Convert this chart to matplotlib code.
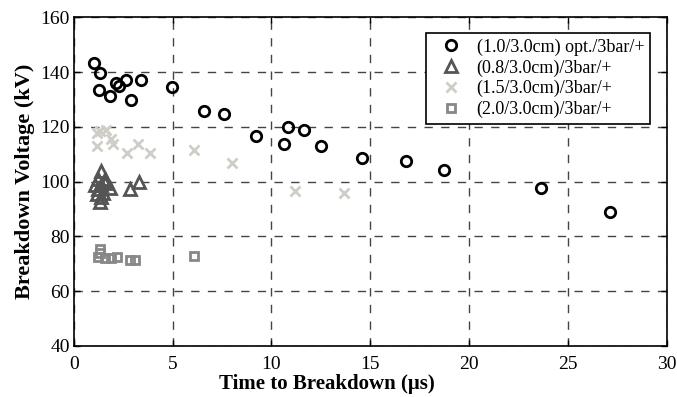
import matplotlib
matplotlib.use('Agg')
import matplotlib.pyplot as plt

plt.rcParams['font.family'] = ['Liberation Serif', 'DejaVu Serif']

# (1.0/3.0cm) opt./3bar/+
t_circ = [1.0, 1.35, 1.25, 1.82, 2.16, 2.29, 2.63, 2.87, 3.39, 4.99, 6.57, 7.59,
          9.2, 10.62, 10.86, 11.63, 12.48, 14.57, 16.8, 18.75, 23.64, 27.1]
v_circ = [143.2, 139.7, 133.4, 131.2, 136.1, 134.9, 137.0, 129.8, 137.2, 134.6, 125.7, 124.9,
          116.6, 113.8, 120.0, 119.0, 113.0, 108.6, 107.7, 104.2, 97.5, 88.9]

# (0.8/3.0cm)/3bar/+
t_tri = [1.4, 1.23, 1.57, 1.06, 1.4, 1.82, 1.23, 1.48, 1.15, 1.4, 1.32, 1.6, 2.83, 3.3]
v_tri = [103.9, 100.9, 100.9, 98.7, 98.7, 97.8, 97.2, 96.0, 95.4, 94.2, 92.4, 99.5, 97.2, 99.9]

# (1.5/3.0cm)/3bar/+
t_x = [1.15, 1.32, 1.65, 1.9, 1.98, 1.15, 2.67, 3.25, 3.84, 6.1, 8.0, 11.2, 13.66]
v_x = [117.8, 118.4, 119.0, 115.4, 113.6, 113.0, 110.5, 113.6, 110.5, 111.5, 106.9, 96.5, 95.9]

# (2.0/3.0cm)/3bar/+
t_sq = [1.32, 1.32, 1.23, 1.57, 1.9, 2.19, 2.83, 3.09, 6.07]
v_sq = [75.4, 73.8, 72.4, 72.0, 72.0, 72.4, 71.2, 71.5, 72.7]

fig = plt.figure(figsize=(6.77, 3.97), dpi=100)
ax = fig.add_axes([0.109, 0.129, 0.876, 0.827])

ax.plot(t_circ, v_circ, 'o', ms=7.5, mfc='none', mec='black', mew=2,
        label='(1.0/3.0cm) opt./3bar/+')
ax.plot(t_tri, v_tri, '^', ms=8, mfc='none', mec='#555555', mew=2,
        label='(0.8/3.0cm)/3bar/+')
ax.plot(t_x, v_x, 'x', ms=7, mec='#cfcdc7', mew=2,
        label='(1.5/3.0cm)/3bar/+')
ax.plot(t_sq, v_sq, 's', ms=6, mfc='none', mec='#888888', mew=2,
        label='(2.0/3.0cm)/3bar/+')

ax.set_xlim(0, 30)
ax.set_ylim(40, 160)
ax.set_xticks(range(0, 31, 5))
ax.set_yticks(range(40, 161, 20))
ax.tick_params(direction='in', labelsize=14, length=4, width=1,
               top=True, right=True)
ax.tick_params(axis='x', pad=7)
ax.tick_params(axis='y', pad=3)
ax.grid(True, linestyle=(0, (6, 6)), color='#444444', linewidth=1)
for s in ax.spines.values():
    s.set_linewidth(1.2)

ax.set_xlabel('Time to Breakdown (\u03bcs)', fontsize=15, fontweight='bold')
ax.xaxis.set_label_coords(0.427, -0.085)
ax.set_ylabel('Breakdown Voltage (kV)', fontsize=16, fontweight='bold', labelpad=4)

leg = ax.legend(loc='upper right', bbox_to_anchor=(0.971, 0.953), borderaxespad=0,
                fontsize=13, frameon=True, fancybox=False,
                edgecolor='black', framealpha=1, borderpad=0.3, labelspacing=0.2,
                handletextpad=0.3, handlelength=2.2)
leg.get_frame().set_linewidth(1.2)

fig.savefig('out.png', dpi=100)
